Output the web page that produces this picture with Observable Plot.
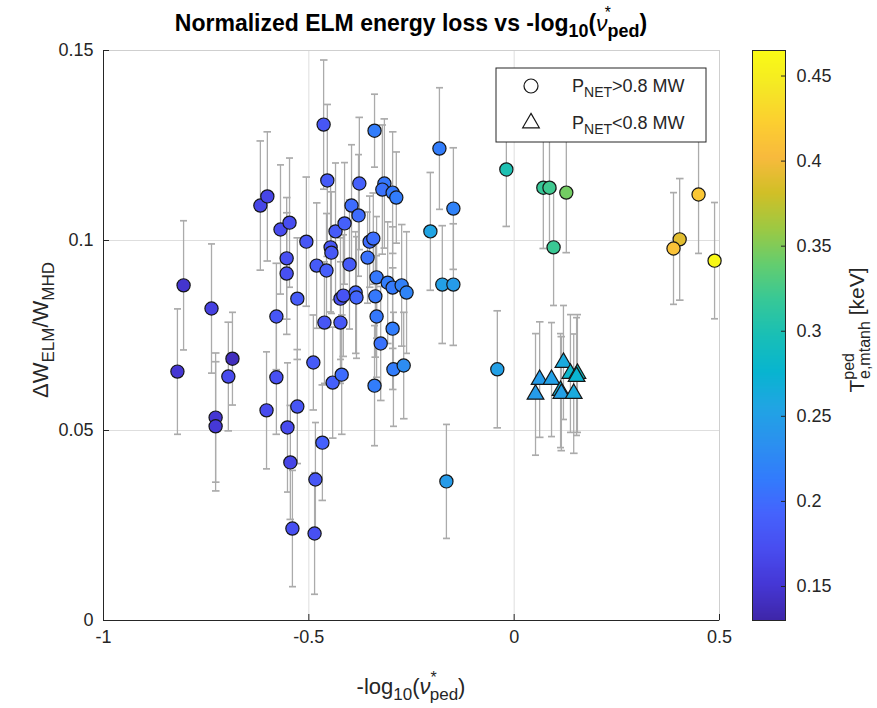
<!DOCTYPE html>
<html><head><meta charset="utf-8">
<script src="https://cdn.jsdelivr.net/npm/d3@7"></script>
<script src="https://cdn.jsdelivr.net/npm/@observablehq/plot@0.6"></script>
<style>
body{margin:0;background:#fff;font-family:"Liberation Sans",Arial,sans-serif;}
#wrap{position:relative;width:877px;height:708px;overflow:hidden;}
#title{position:absolute;left:103px;width:616px;top:10px;text-align:center;font-weight:bold;font-size:23px;line-height:26px;color:#000;white-space:nowrap;z-index:2;}
#title sub{font-size:0.78em;vertical-align:-0.32em;line-height:0;}
#title .nu{position:relative;font-style:italic;font-weight:normal;}
#title .star{position:absolute;left:0.55em;top:-0.3em;font-size:0.68em;line-height:1;font-style:normal;}
#main{position:absolute;left:0;top:30px;}
#cbar{position:absolute;left:740px;top:30px;}
</style></head><body>
<div id="wrap">
<div id="title">Normalized ELM energy loss vs -log<sub>10</sub>(<span class="nu">ν<span class="star">*</span></span><sub>ped</sub>)</div>
<div id="main"></div>
<div id="cbar"></div>
</div>
<script>
// ---- data: P_NET > 0.8 MW (circles) ----
const circleX = [-0.820,-0.805,-0.737,-0.727,-0.727,-0.686,-0.696,-0.618,-0.601,-0.569,-0.547,-0.464,-0.455,-0.377,-0.340,-0.316,-0.321,-0.296,-0.287,-0.506,-0.396,-0.379,-0.435,-0.413,-0.352,-0.343,-0.447,-0.445,-0.554,-0.554,-0.481,-0.457,-0.401,-0.357,-0.335,-0.308,-0.296,-0.274,-0.262,-0.423,-0.416,-0.386,-0.384,-0.338,-0.335,-0.296,-0.325,-0.528,-0.579,-0.462,-0.423,-0.489,-0.467,-0.442,-0.420,-0.340,-0.294,-0.269,-0.603,-0.528,-0.552,-0.545,-0.540,-0.486,-0.484,-0.579,-0.182,-0.148,-0.204,-0.175,-0.148,-0.041,-0.165,-0.019,0.071,0.086,0.127,0.096,0.449,0.403,0.388,0.488];
const circleY = [0.0655,0.0882,0.0821,0.0534,0.0511,0.0689,0.0642,0.1092,0.1116,0.1029,0.1047,0.1305,0.1158,0.1150,0.1289,0.1150,0.1134,0.1126,0.1113,0.0997,0.1092,0.1066,0.1024,0.1045,0.0997,0.1005,0.0982,0.0968,0.0953,0.0913,0.0934,0.0921,0.0937,0.0955,0.0903,0.0889,0.0876,0.0882,0.0863,0.0847,0.0855,0.0863,0.0850,0.0853,0.0800,0.0768,0.0729,0.0847,0.0800,0.0784,0.0784,0.0679,0.0468,0.0626,0.0647,0.0618,0.0661,0.0671,0.0553,0.0563,0.0508,0.0416,0.0242,0.0229,0.0371,0.0640,0.1242,0.1084,0.1024,0.0884,0.0884,0.0661,0.0366,0.1187,0.1139,0.1139,0.1126,0.0982,0.1121,0.1003,0.0979,0.0947];
const circleErr = [0.0165,0.017,0.017,0.017,0.017,0.0122,0.0143,0.017,0.017,0.017,0.017,0.017,0.020,0.0174,0.0096,0.017,0.017,0.016,0.012,0.017,0.016,0.016,0.018,0.016,0.012,0.012,0.017,0.016,0.016,0.016,0.0165,0.015,0.017,0.012,0.016,0.016,0.016,0.016,0.016,0.016,0.016,0.016,0.016,0.016,0.016,0.016,0.015,0.016,0.014,0.016,0.016,0.0125,0.0152,0.0146,0.0157,0.0158,0.015,0.014,0.0154,0.015,0.017,0.015,0.0153,0.016,0.015,0.015,0.016,0.016,0.0155,0.0155,0.016,0.0154,0.015,0.015,0.016,0.016,0.0158,0.0153,0.0155,0.016,0.0147,0.0153];
const circleT = [0.150,0.148,0.160,0.150,0.152,0.140,0.170,0.165,0.165,0.170,0.172,0.180,0.185,0.190,0.215,0.210,0.205,0.212,0.215,0.180,0.200,0.200,0.185,0.190,0.200,0.202,0.180,0.182,0.175,0.175,0.185,0.188,0.185,0.205,0.210,0.215,0.212,0.218,0.222,0.175,0.178,0.195,0.195,0.210,0.210,0.215,0.205,0.185,0.180,0.180,0.182,0.185,0.190,0.190,0.200,0.215,0.215,0.230,0.170,0.180,0.170,0.165,0.175,0.175,0.180,0.175,0.215,0.220,0.255,0.250,0.245,0.250,0.245,0.300,0.318,0.322,0.345,0.320,0.415,0.390,0.410,0.462];
// ---- data: P_NET < 0.8 MW (triangles) ----
const triX = [0.052,0.062,0.091,0.120,0.113,0.115,0.137,0.154,0.152,0.145];
const triY = [0.0595,0.0634,0.0634,0.0679,0.0605,0.0597,0.0650,0.0650,0.0642,0.0597];
const triErr = [0.016,0.0152,0.015,0.015,0.015,0.015,0.0155,0.0155,0.0155,0.0157];
const triT = [0.245,0.245,0.250,0.262,0.270,0.250,0.280,0.290,0.275,0.262];
// ---- ticks ----
const xTicks = [-1,-0.5,0,0.5];
const yTicks = [0,0.05,0.1,0.15];
const cTicks = [0.15,0.2,0.25,0.3,0.35,0.4,0.45];
const xDomain = [-1,0.5], yDomain = [0,0.15], cDomain = [0.13,0.465];
// parula colormap stops
const parula = ["#3e26a8","#4537d5","#484df0","#4563fd","#327cfc","#2b91ef","#20a5e3","#08b5d0","#19bfb6","#37c897","#64cd6f","#9dc943","#d1bf27","#f8ba3d","#fccf30","#f5e924","#f9fb15"];

const circles = circleX.map((x,i)=>({x, y:circleY[i], e:circleErr[i], t:circleT[i]}));
const tris = triX.map((x,i)=>({x, y:triY[i], e:triErr[i], t:triT[i]}));
const colorOpts = {type:"linear", domain:cDomain, interpolate: d3.piecewise(d3.interpolateRgb, parula)};
const FONT = '"Liberation Sans", Arial, sans-serif';
const INK = "#262626";
const errOpts = {x1:"x", x2:"x", y1:d=>d.y-d.e, y2:d=>d.y+d.e, stroke:"#ababab", strokeWidth:1.3, markerStart:"tick-x", markerEnd:"tick-x"};

const mainSvg = Plot.plot({
  width:740, height:678, marginLeft:103, marginRight:21, marginTop:20, marginBottom:88,
  style:{fontFamily:FONT, fontSize:"18px", color:INK, background:"transparent"},
  x:{domain:xDomain, label:null},
  y:{domain:yDomain, label:null},
  color: colorOpts,
  marks:[
    Plot.gridX(xTicks, {stroke:"#dedede", strokeOpacity:1}),
    Plot.gridY(yTicks, {stroke:"#dedede", strokeOpacity:1}),
    Plot.frame({stroke:"#cfcfcf"}),
    Plot.link(circles, errOpts),
    Plot.link(tris, errOpts),
    Plot.dot(circles, {x:"x", y:"y", fill:"t", r:6.6, stroke:"#161616", strokeWidth:1.2}),
    Plot.dot(tris, {x:"x", y:"y", fill:"t", r:6.2, symbol:"triangle", stroke:"#161616", strokeWidth:1.2}),
    Plot.ruleX([xDomain[0]], {stroke:INK}),
    Plot.ruleY([yDomain[0]], {stroke:INK}),
    Plot.axisX(xTicks, {tickSize:-6, tickFormat:()=>"", stroke:INK}),
    Plot.axisY(yTicks, {tickSize:-6, tickFormat:()=>"", stroke:INK}),
    Plot.axisX(xTicks, {tickSize:0, tickPadding:10, tickFormat:d=>String(d)}),
    Plot.axisY(yTicks, {tickSize:0, tickPadding:10, tickFormat:d=>String(d)})
  ]
});
document.getElementById("main").append(mainSvg);

const cbarSvg = Plot.plot({
  width:137, height:678, marginLeft:12, marginRight:92, marginTop:20, marginBottom:88,
  style:{fontFamily:FONT, fontSize:"18px", color:INK, background:"transparent"},
  x:{domain:[0,1], axis:null},
  y:{domain:cDomain, axis:null},
  color: colorOpts,
  marks:[
    Plot.raster({fill:(x,y)=>y, x1:0, x2:1, y1:cDomain[0], y2:cDomain[1], width:1, height:400, imageRendering:"auto"}),
    Plot.frame({stroke:INK}),
    Plot.axisY(cTicks, {anchor:"right", tickSize:-5, tickFormat:()=>"", stroke:INK}),
    Plot.axisY(cTicks, {anchor:"right", tickSize:0, tickPadding:11, tickFormat:d=>String(d)})
  ]
});
document.getElementById("cbar").append(cbarSvg);

// rich text helper (sub/superscripts as tspans)
function rich(svgEl, x, y, parts, {size=22, rotate=0, anchor="middle", weight="normal"}={}) {
  const t = d3.select(svgEl).append("text")
    .attr("transform", `translate(${x},${y}) rotate(${rotate})`)
    .attr("text-anchor", anchor).attr("font-family", FONT).attr("font-size", size)
    .attr("font-weight", weight).attr("fill", INK);
  for (const p of parts) {
    const s = t.append("tspan").text(p.t);
    if (p.s) s.attr("font-size", p.s);
    if (p.dy) s.attr("dy", p.dy);
    if (p.dx) s.attr("dx", p.dx);
    if (p.i) s.attr("font-style", "italic");
  }
  return t;
}
// svg y offset: page y - 30
// x label
rich(mainSvg, 411, 664, [{t:"-log"},{t:"10",s:17,dy:6},{t:"(",dy:-6},{t:"ν",i:1},{t:"*",s:16,dy:-11},{t:"ped",s:17,dx:-7,dy:17},{t:")",dy:-6}]);
// y label
rich(mainSvg, 48, 300, [{t:"ΔW"},{t:"ELM",s:17,dy:6},{t:"/W",dy:-6},{t:"MHD",s:17,dy:6}], {rotate:-90});
// colorbar label
rich(cbarSvg, 124, 300, [{t:"T"},{t:"ped",s:16,dy:-10},{t:"e,mtanh",s:16,dx:-26,dy:16},{t:" [keV]",dy:-6}], {rotate:-90, size:21});

// legend
const lg = d3.select(mainSvg).append("g");
lg.append("rect").attr("x",496).attr("y",38).attr("width",210).attr("height",74).attr("fill","#fff").attr("stroke",INK).attr("stroke-width",1);
lg.append("circle").attr("cx",531).attr("cy",56).attr("r",7).attr("fill","#fff").attr("stroke","#161616").attr("stroke-width",1.2);
lg.append("path").attr("d", d3.symbol(d3.symbolTriangle, 120)()).attr("transform","translate(531,93)").attr("fill","#fff").attr("stroke","#161616").attr("stroke-width",1.2);
rich(mainSvg, 572, 62, [{t:"P"},{t:"NET",s:14,dy:5},{t:">0.8 MW",dy:-5}], {size:18, anchor:"start"});
rich(mainSvg, 572, 99, [{t:"P"},{t:"NET",s:14,dy:5},{t:"<0.8 MW",dy:-5}], {size:18, anchor:"start"});
</script>
</body></html>
